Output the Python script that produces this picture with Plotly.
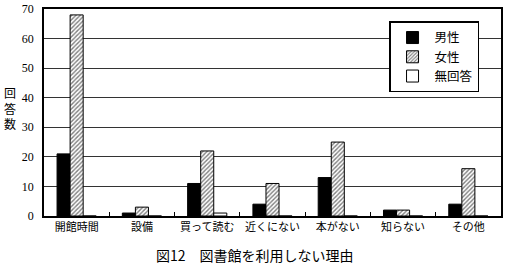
import plotly.graph_objects as go

categories = ["開館時間", "設備", "買って読む", "近くにない", "本がない", "知らない", "その他"]
male = [21, 1, 11, 4, 13, 2, 4]
female = [68, 3, 22, 11, 25, 2, 16]
no_answer = [0, 0, 1, 0, 0, 0, 0]
y_ticks = [0, 10, 20, 30, 40, 50, 60, 70]

serif = "Liberation Serif, Noto Sans CJK JP, serif"
jp = "Noto Sans CJK JP, serif"

fig = go.Figure()
fig.add_trace(go.Bar(x=categories, y=male, name="男性",
                     marker=dict(color="black", line=dict(color="black", width=1))))
fig.add_trace(go.Bar(x=categories, y=female, name="女性",
                     marker=dict(color="white", line=dict(color="black", width=1),
                                 pattern=dict(shape="/", fgcolor="black", bgcolor="white",
                                              size=3, solidity=0.45))))
fig.add_trace(go.Bar(x=categories, y=no_answer, name="無回答",
                     marker=dict(color="white", line=dict(color="black", width=1))))

fig.update_layout(
    width=505, height=267,
    margin=dict(l=44, r=2, t=6, b=51),
    paper_bgcolor="white", plot_bgcolor="white",
    barmode="group", bargap=0.4, bargroupgap=0,
    font=dict(family=jp, size=12, color="black"),
    legend=dict(x=0.755, y=0.94, xanchor="left", yanchor="top",
                bgcolor="white", bordercolor="black", borderwidth=1.5,
                font=dict(family=jp, size=12.5), itemwidth=34,
                tracegroupgap=2),
    showlegend=True,
)
fig.update_xaxes(
    showline=True, linecolor="black", linewidth=1.5, mirror=True,
    ticks="inside", tickson="boundaries", ticklen=4, tickcolor="black",
    tickfont=dict(family=jp, size=11), tickangle=0, showgrid=False,
)
fig.update_yaxes(
    range=[0, 70], tickvals=y_ticks, showline=True, linecolor="black", linewidth=1.5,
    mirror=True, showgrid=True, gridcolor="#333", gridwidth=1,
    tickfont=dict(family=serif, size=12), ticks="", ticklabelstandoff=6,
    zeroline=False, ticklabeloverflow="allow",
)
fig.add_annotation(text="回<br>答<br>数", xref="paper", yref="paper", x=-0.074, y=0.52,
                   showarrow=False, font=dict(family=jp, size=12), xanchor="center",
                   yanchor="middle", align="center")
fig.add_annotation(text="図12　図書館を利用しない理由", xref="paper", yref="paper",
                   x=0.462, y=-0.19, yanchor="middle", showarrow=False, borderpad=0,
                   font=dict(family=jp, size=14))

fig.write_html("out.html")
